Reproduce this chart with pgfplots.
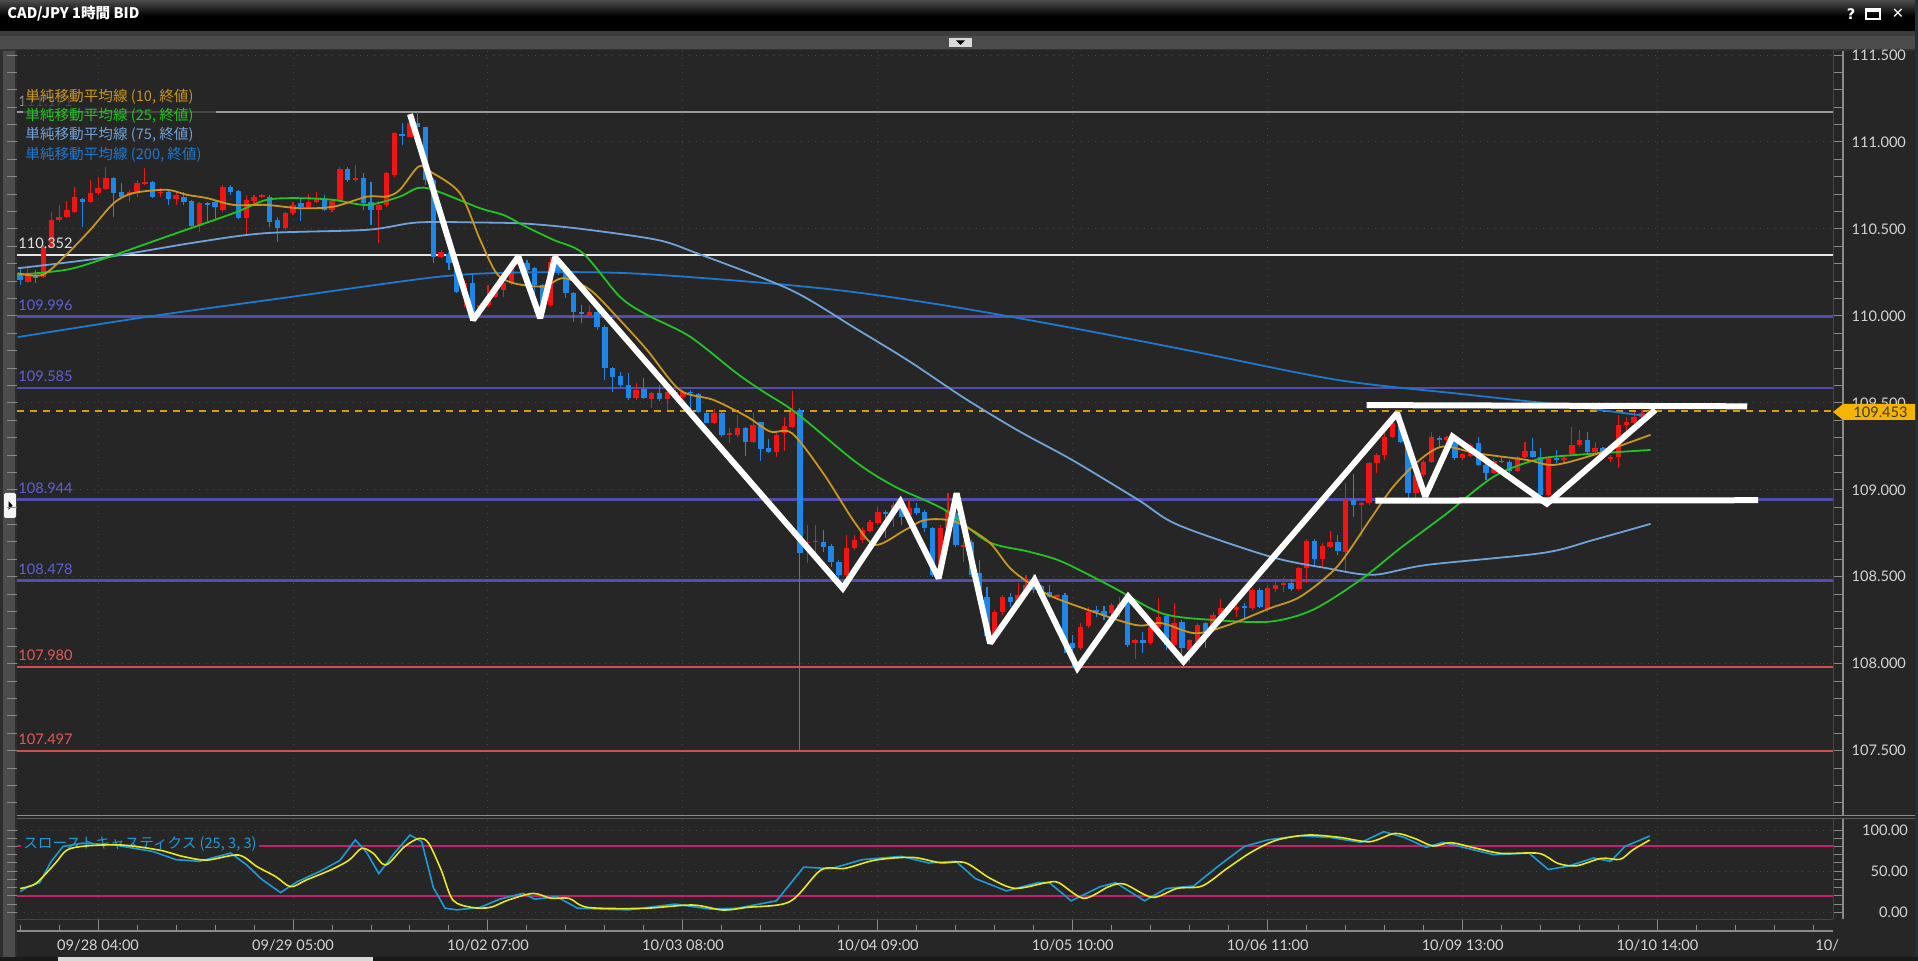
\documentclass[border=0pt]{standalone}
\usepackage{pgfplots}
\pgfplotsset{compat=1.18}
\usepackage{pgfplotstable}
\usepackage{fontspec}
\setmainfont{Lato}
\newfontfamily\cjk{Noto Sans CJK JP}
\newfontfamily\djv{DejaVu Sans}
\definecolor{bgc}{HTML}{262626}
\definecolor{gridc}{HTML}{4A4A4A}
\definecolor{txtc}{HTML}{D4D4D4}
\definecolor{axc}{HTML}{8A8A8A}
\definecolor{upc}{HTML}{F01414}
\definecolor{dnc}{HTML}{1E86E6}
\definecolor{smaA}{HTML}{C8961E}
\definecolor{smaB}{HTML}{22C322}
\definecolor{smaC}{HTML}{6FA3D8}
\definecolor{smaD}{HTML}{1F78D0}
\definecolor{indl}{HTML}{5050AC}
\definecolor{indt}{HTML}{6060D8}
\definecolor{redl}{HTML}{D05050}
\definecolor{redt}{HTML}{E25A5A}
\definecolor{orgc}{HTML}{D89C14}
\definecolor{tagc}{HTML}{F6B400}
\definecolor{stK}{HTML}{1E9BD7}
\definecolor{stD}{HTML}{E8E81E}
\definecolor{magc}{HTML}{C81E6E}
\definecolor{edgec}{HTML}{1E3434}
\definecolor{lgray}{HTML}{9A9A9A}
\definecolor{wline}{HTML}{E6E6E6}
\definecolor{wlab}{HTML}{E0E0E0}
\definecolor{borderc}{HTML}{444444}
\definecolor{sepa}{HTML}{8C8C8C}
\definecolor{sepb}{HTML}{5A5A5A}
\definecolor{bota}{HTML}{1A1A1A}
\definecolor{botb}{HTML}{D8D8D8}

\pgfplotstableread{
i o h l c
-9 110.198 110.274 110.188 110.236
-7 110.226 110.408 110.217 110.399
-6 110.399 110.600 110.389 110.552
-5 110.552 110.638 110.543 110.571
-4 110.571 110.658 110.562 110.610
-3 110.600 110.744 110.591 110.686
-1 110.654 110.782 110.648 110.711
0 110.706 110.801 110.696 110.738
1 110.730 110.859 110.725 110.796
4 110.696 110.725 110.658 110.711
5 110.706 110.782 110.686 110.763
6 110.763 110.853 110.753 110.769
8 110.706 110.734 110.686 110.715
10 110.673 110.715 110.638 110.696
13 110.520 110.658 110.485 110.648
16 110.610 110.753 110.600 110.744
19 110.562 110.696 110.470 110.667
20 110.658 110.696 110.638 110.686
21 110.686 110.700 110.677 110.696
24 110.504 110.600 110.495 110.591
25 110.591 110.658 110.581 110.638
27 110.629 110.700 110.619 110.654
28 110.654 110.715 110.648 110.677
30 110.610 110.667 110.600 110.661
31 110.661 110.859 110.657 110.845
33 110.782 110.865 110.769 110.792
36 110.610 110.658 110.418 110.638
37 110.638 110.830 110.629 110.821
38 110.811 111.060 110.801 111.051
40 111.031 111.146 111.026 111.108
44 110.341 110.380 110.332 110.370
47 110.140 110.207 110.054 110.188
49 110.025 110.073 110.006 110.063
50 110.063 110.178 110.054 110.111
51 110.111 110.169 110.102 110.149
52 110.149 110.245 110.111 110.188
53 110.188 110.303 110.178 110.293
54 110.293 110.341 110.284 110.312
58 110.063 110.341 110.054 110.312
63 110.006 110.063 109.987 110.025
69 109.526 109.613 109.517 109.574
71 109.521 109.565 109.469 109.559
73 109.521 109.574 109.459 109.565
75 109.536 109.574 109.521 109.565
79 109.387 109.463 109.379 109.440
81 109.319 109.354 109.268 109.329
82 109.316 109.431 109.306 109.354
84 109.277 109.450 109.268 109.373
87 109.220 109.325 109.191 109.316
88 109.325 109.421 109.225 109.367
89 109.364 109.571 109.354 109.450
91 108.693 108.798 108.581 108.702
92 108.702 108.798 108.626 108.708
96 108.510 108.741 108.501 108.664
97 108.664 108.741 108.654 108.712
98 108.712 108.789 108.693 108.766
99 108.766 108.827 108.760 108.817
100 108.808 108.904 108.798 108.871
102 108.861 108.932 108.789 108.913
104 108.856 108.942 108.846 108.894
108 108.540 108.798 108.491 108.779
109 108.779 108.980 108.769 108.884
111 108.674 108.702 108.587 108.683
115 108.160 108.309 108.118 108.300
116 108.300 108.396 108.281 108.386
118 108.357 108.463 108.348 108.396
119 108.405 108.511 108.396 108.453
123 108.382 108.401 108.376 108.396
126 108.089 108.233 108.079 108.214
127 108.214 108.329 108.204 108.300
130 108.290 108.348 108.271 108.338
131 108.329 108.386 108.271 108.344
133 108.121 108.146 108.031 108.137
135 108.118 108.223 108.108 108.214
136 108.214 108.376 108.204 108.271
138 108.108 108.348 108.099 108.233
140 108.079 108.146 108.003 108.137
141 108.127 108.233 108.099 108.223
143 108.194 108.300 108.185 108.281
144 108.281 108.376 108.271 108.319
146 108.309 108.348 108.271 108.329
148 108.319 108.434 108.309 108.424
150 108.314 108.453 108.298 108.434
151 108.428 108.472 108.415 108.453
152 108.453 108.491 108.415 108.466
154 108.428 108.558 108.420 108.549
155 108.549 108.716 108.463 108.708
157 108.601 108.693 108.558 108.679
158 108.674 108.765 108.664 108.702
160 108.645 109.038 108.530 108.942
162 108.913 108.932 108.731 108.927
163 108.923 109.162 108.913 109.153
164 109.153 109.210 109.095 109.201
165 109.201 109.325 109.172 109.306
166 109.306 109.440 109.297 109.383
169 108.980 109.095 108.951 109.086
170 109.086 109.172 109.076 109.162
171 109.162 109.335 109.153 109.302
173 109.287 109.310 109.258 109.302
175 109.182 109.214 109.172 109.206
176 109.195 109.268 109.187 109.258
179 109.099 109.182 109.091 109.168
182 109.111 109.195 109.103 109.187
183 109.187 109.277 109.182 109.226
186 108.971 109.191 108.961 109.182
188 109.172 109.201 109.162 109.187
189 109.206 109.364 109.201 109.258
190 109.258 109.348 109.249 109.287
192 109.220 109.277 109.210 109.239
194 109.176 109.201 109.162 109.187
195 109.187 109.431 109.124 109.373
196 109.373 109.421 109.316 109.392
197 109.383 109.450 109.364 109.421
198 109.421 109.459 109.402 109.440
199 109.440 109.469 109.431 109.453
}\upt

\pgfplotstableread{
i o h l c
-10 110.245 110.274 110.178 110.207
-8 110.236 110.264 110.188 110.221
-2 110.673 110.677 110.514 110.658
2 110.792 110.801 110.571 110.706
3 110.711 110.763 110.677 110.686
7 110.769 110.776 110.677 110.686
9 110.715 110.725 110.638 110.673
11 110.686 110.715 110.638 110.654
12 110.661 110.667 110.514 110.520
14 110.648 110.658 110.533 110.638
15 110.654 110.658 110.552 110.629
17 110.744 110.757 110.696 110.715
18 110.719 110.725 110.558 110.562
22 110.686 110.696 110.514 110.543
23 110.552 110.571 110.428 110.504
26 110.648 110.677 110.543 110.629
29 110.673 110.696 110.604 110.610
32 110.845 110.859 110.773 110.782
34 110.792 110.821 110.610 110.648
35 110.654 110.769 110.524 110.610
39 111.045 111.108 110.983 111.035
41 111.108 111.171 111.079 111.085
42 111.085 111.089 110.753 110.782
43 110.782 110.792 110.303 110.341
45 110.360 110.370 110.264 110.303
46 110.303 110.312 110.130 110.140
48 110.188 110.245 109.987 110.025
55 110.307 110.322 110.255 110.264
56 110.274 110.284 110.025 110.178
57 110.178 110.188 109.996 110.063
59 110.312 110.337 110.235 110.245
60 110.245 110.255 110.102 110.130
61 110.130 110.140 109.967 110.025
62 110.025 110.063 109.958 110.011
64 110.025 110.034 109.919 109.935
65 109.935 109.948 109.632 109.699
66 109.703 109.709 109.565 109.651
67 109.655 109.680 109.594 109.603
68 109.603 109.670 109.517 109.526
70 109.578 109.641 109.521 109.526
72 109.559 109.603 109.513 109.521
74 109.565 109.574 109.526 109.536
76 109.565 109.574 109.440 109.555
77 109.551 109.559 109.440 109.450
78 109.440 109.450 109.383 109.387
80 109.440 109.450 109.302 109.316
83 109.354 109.364 109.195 109.277
85 109.387 109.392 109.168 109.233
86 109.239 109.291 109.214 109.220
90 109.459 109.469 107.504 108.635
93 108.702 108.769 108.645 108.670
94 108.677 108.689 108.558 108.587
95 108.587 108.597 108.482 108.510
101 108.871 108.884 108.722 108.861
103 108.904 108.932 108.798 108.846
105 108.894 108.923 108.856 108.869
106 108.875 108.884 108.760 108.779
107 108.779 108.789 108.501 108.511
110 108.865 108.884 108.674 108.683
112 108.702 108.712 108.501 108.511
113 108.521 108.597 108.348 108.367
114 108.386 108.444 108.130 108.160
117 108.386 108.405 108.329 108.357
120 108.453 108.517 108.405 108.424
121 108.447 108.453 108.376 108.386
122 108.415 108.453 108.376 108.382
124 108.396 108.405 108.060 108.118
125 108.118 108.166 107.975 108.089
128 108.309 108.329 108.271 108.300
129 108.300 108.332 108.252 108.271
132 108.376 108.386 108.099 108.108
134 108.137 108.185 108.060 108.121
137 108.271 108.281 108.079 108.108
139 108.242 108.252 108.013 108.089
142 108.233 108.242 108.089 108.175
145 108.319 108.338 108.290 108.300
147 108.329 108.348 108.252 108.319
149 108.424 108.434 108.319 108.329
153 108.466 108.486 108.420 108.428
156 108.708 108.716 108.568 108.601
159 108.702 108.741 108.626 108.651
161 108.942 109.095 108.846 108.913
167 109.373 109.392 109.268 109.277
168 109.277 109.297 108.951 108.980
172 109.297 109.310 109.249 109.287
174 109.297 109.306 109.172 109.182
177 109.268 109.306 109.134 109.143
178 109.143 109.162 109.057 109.099
180 109.168 109.195 109.153 109.162
181 109.162 109.172 109.099 109.111
184 109.226 109.297 109.182 109.191
185 109.191 109.239 108.920 108.971
187 109.187 109.229 109.153 109.172
191 109.287 109.335 109.210 109.220
193 109.239 109.249 109.201 109.206
}\dnt

\pgfplotsset{
  wick/.style={draw=none, mark=none, forget plot,
    error bars/.cd, y dir=both, y explicit, error mark=none,
    error bar style={draw=#1, line width=0.55pt, solid}},
  body/.style={draw=none, mark=none, forget plot,
    error bars/.cd, y dir=both, y explicit, error mark=none,
    error bar style={draw=#1, line width=2.7pt, line cap=butt, solid}},
}
\newcommand{\fs}{\fontsize{7.3}{8.5}\selectfont}

\begin{document}
\begin{tikzpicture}[font=\fs]
\begin{scope}[x=0.5pt,y=-0.5pt]
  \fill[bgc] (0,0) rectangle (1918,961);
  % title bar
  \fill[black] (0,0) rectangle (1918,31);
  \shade[top color=black!70!white, bottom color=black] (0,0) rectangle (1918,16);
  \node[anchor=west, text=white, inner sep=0] at (7,14) {\cjk\bfseries CAD/JPY 1時間 BID};
  \node[text=white, inner sep=0] at (1851,14) {\djv\bfseries ?};
  \draw[white, line width=0.7pt] (1866,9) rectangle (1880,19);
  \fill[white] (1866,9) rectangle (1880,12);
  \node[text=white, inner sep=0] at (1898,14) {\djv\bfseries ✕};
  % toolbar
  \fill[black!76] (0,31) rectangle (1918,36);
  \fill[black!70] (0,36) rectangle (1918,49);
  \fill[black!80] (0,49) rectangle (1918,51);
  \fill[black!15] (949,38) rectangle (972,47);
  \fill[black] (956,40.5) -- (965,40.5) -- (960.5,45) -- cycle;
  % left strip
  \fill[black!70] (0,51) rectangle (17,958);
  \fill[black!82] (0,51) rectangle (3,958);
  \fill[black!82] (15,51) rectangle (17,958);
  \fill[black!4, rounded corners=1pt] (4,493) rectangle (16,518);
  \fill[black] (8.5,501) -- (12.5,505.5) -- (8.5,510) -- cycle;
  % right edge
  \fill[edgec] (1915,0) rectangle (1918,961);
\end{scope}

% ================= main price panel =================
\begin{axis}[
  at={(8.5pt,-407.5pt)}, anchor=south west,
  width=908pt, height=382.5pt, scale only axis,
  xmin=-10.4, xmax=222.5, ymin=107.13, ymax=111.529,
  axis background/.style={fill=bgc},
  axis line style={draw=none},
  xtick={0,25,...,200}, xticklabels={}, xtick style={draw=none},
  xmajorgrids, ymajorgrids,
  grid style={draw=gridc, line width=0.5pt, dash pattern=on 0.7pt off 2.8pt},
  ytick={107.5,108,...,111.5},
  minor ytick={107.2,107.3,...,111.45},
  yticklabel pos=right,
  ytick style={draw=axc, line width=0.5pt},
  tick align=outside, major tick length=5pt, minor tick length=5pt,
  yticklabel style={font=\fs, text=txtc, anchor=east, xshift=35pt,
    /pgf/number format/.cd, fixed, fixed zerofill, precision=3, assume math mode=true},
  clip=true,
]
% level lines
\addplot[lgray, line width=1pt, forget plot] coordinates {(-10.4,111.171) (222.5,111.171)};
\addplot[wline, line width=0.9pt, forget plot] coordinates {(-10.4,110.352) (222.5,110.352)};
\addplot[indl, line width=1.1pt, forget plot] coordinates {(-10.4,109.996) (222.5,109.996)};
\addplot[indl, line width=1.1pt, forget plot] coordinates {(-10.4,109.585) (222.5,109.585)};
\addplot[indl, line width=1.1pt, forget plot] coordinates {(-10.4,108.944) (222.5,108.944)};
\addplot[indl, line width=1.1pt, forget plot] coordinates {(-10.4,108.478) (222.5,108.478)};
\addplot[redl, line width=0.9pt, forget plot] coordinates {(-10.4,107.980) (222.5,107.980)};
\addplot[redl, line width=0.9pt, forget plot] coordinates {(-10.4,107.497) (222.5,107.497)};
\addplot[orgc, line width=1pt, dash pattern=on 3.5pt off 3pt, forget plot] coordinates {(-10.4,109.453) (222.5,109.453)};
% candles
\addplot[wick=upc] table[x=i, y expr={(\thisrow{h}+\thisrow{l})/2}, y error expr={(\thisrow{h}-\thisrow{l})/2}] {\upt};
\addplot[wick=dnc] table[x=i, y expr={(\thisrow{h}+\thisrow{l})/2}, y error expr={(\thisrow{h}-\thisrow{l})/2}] {\dnt};
\addplot[body=upc] table[x=i, y expr={(\thisrow{o}+\thisrow{c})/2}, y error expr={max(abs(\thisrow{c}-\thisrow{o})/2,0.003)}] {\upt};
\addplot[body=dnc] table[x=i, y expr={(\thisrow{o}+\thisrow{c})/2}, y error expr={max(abs(\thisrow{c}-\thisrow{o})/2,0.003)}] {\dnt};
% moving averages
\addplot[smaD, line width=0.9pt, smooth] coordinates {(-10.3,109.878) (6.5,109.996) (23.6,110.102) (43.9,110.226) (55,110.25) (68.2,110.245) (85.3,110.19) (97.1,110.136) (110,110.05) (125,109.93) (140,109.80) (158.9,109.632) (175,109.55) (187.5,109.488) (199.1,109.421)};
\addplot[smaC, line width=0.9pt, smooth] coordinates {(-10.3,110.274) (0.3,110.332) (13.1,110.427) (21.6,110.476) (34.5,110.495) (40.9,110.537) (49,110.537) (55,110.53) (62,110.50) (71.7,110.437) (76.8,110.360) (88.8,110.150) (97.1,109.929) (104,109.74) (111,109.53) (118,109.34) (124.9,109.172) (133.4,108.942) (138.5,108.798) (150.3,108.616) (157.6,108.549) (163.5,108.511) (170.4,108.568) (185.3,108.637) (191.8,108.712) (199.1,108.804)};
\addplot[smaB, line width=0.9pt, smooth] coordinates {(-10.3,110.236) (-4.1,110.265) (0.3,110.322) (8.8,110.456) (17.4,110.591) (21.6,110.667) (25.9,110.677) (30.2,110.667) (34.5,110.638) (38.7,110.686) (40.9,110.734) (43,110.725) (49,110.619) (52,110.58) (55,110.51) (58.4,110.437) (62.2,110.360) (66.9,110.111) (70.4,110.006) (75.9,109.881) (81.9,109.670) (85.3,109.565) (89.6,109.440) (97.1,109.162) (102.2,109.018) (108.6,108.884) (114.1,108.702) (119.3,108.645) (123.6,108.587) (130,108.443) (136.4,108.290) (142.8,108.252) (150.3,108.242) (155.8,108.310) (161.9,108.482) (167,108.664) (173,108.865) (179,109.076) (184.6,109.175) (189.7,109.201) (199.1,109.229)};
\addplot[smaA, line width=0.9pt, smooth] coordinates {(-10.3,110.245) (-7.1,110.236) (-4.1,110.351) (-1,110.495) (2,110.648) (4.5,110.706) (8.8,110.725) (11.4,110.696) (14,110.677) (17.4,110.638) (21.6,110.638) (25.9,110.619) (30.2,110.628) (34.5,110.686) (37,110.686) (38.7,110.725) (41.1,110.859) (42.6,110.83) (46.4,110.706) (49,110.437) (51.1,110.245) (53.3,110.188) (57.1,110.169) (59.7,110.217) (63.1,110.150) (66.9,109.977) (70.4,109.804) (74.6,109.574) (78.9,109.517) (83.2,109.421) (86.2,109.335) (89,109.325) (93,109.095) (97.1,108.808) (99.7,108.683) (103.5,108.769) (106.1,108.827) (109.9,108.817) (114.2,108.702) (117.2,108.539) (121.5,108.405) (125.7,108.329) (133,108.223) (136.4,108.233) (140.7,108.175) (145,108.223) (150.3,108.319) (154.2,108.386) (158.9,108.558) (163.1,108.827) (166.1,109.018) (169.5,109.172) (172.5,109.249) (176.8,109.210) (183.2,109.172) (186.7,109.143) (191.8,109.201) (199.1,109.316)};
% hand-drawn white trend lines
\addplot[white, line width=3pt, miter limit=2] coordinates {(40.0,111.16) (48.1,109.977) (53.9,110.341) (56.7,109.987) (58.6,110.337) (95.5,108.434) (102.9,108.932) (107.8,108.491) (110.1,108.980) (114.4,108.118) (120.1,108.482) (125.6,107.975) (132.1,108.386) (139.2,108.013) (166.6,109.44) (170.2,108.961) (173.7,109.306) (185.8,108.92) (199.7,109.459)};
\addplot[white, line width=3pt] coordinates {(162.7,109.487) (211.5,109.480)};
\addplot[white, line width=3pt] coordinates {(163.8,108.938) (212.9,108.940)};
\end{axis}

% ================= stochastics panel =================
\begin{axis}[
  at={(8.5pt,-459.5pt)}, anchor=south west,
  width=908pt, height=50pt, scale only axis,
  xmin=-10.4, xmax=222.5, ymin=-8.1, ymax=113.4,
  axis background/.style={fill=bgc},
  axis line style={draw=none},
  xtick={0,25,...,200}, xticklabels={}, xtick style={draw=none},
  xmajorgrids, ymajorgrids,
  grid style={draw=gridc, line width=0.5pt, dash pattern=on 0.7pt off 2.8pt},
  ytick={0,50,100},
  minor ytick={10,20,...,90},
  yticklabel pos=right,
  ytick style={draw=axc, line width=0.5pt},
  tick align=outside, major tick length=5pt, minor tick length=5pt,
  yticklabel style={font=\fs, text=txtc, anchor=east, xshift=36pt,
    /pgf/number format/.cd, fixed, fixed zerofill, precision=2, assume math mode=true},
  clip=true,
]
\addplot[magc, line width=1pt] coordinates {(-10.4,80) (222.5,80)};
\addplot[magc, line width=1pt] coordinates {(-10.4,20) (222.5,20)};
\node[anchor=west, fill=bgc, inner sep=1pt, text=stK] at (axis cs:-9.9,83) {\cjk スローストキャスティクス (25, 3, 3)};
\addplot[stK, line width=0.8pt] coordinates {(-10,25) (-9,31) (-7.5,36) (-6,62) (-4.5,80) (-2,84) (2,82) (7,74) (10,64) (13,62) (17,72) (19,58) (21,40) (23.4,24) (25.5,37) (28.5,50) (31,63) (33,88) (34.5,72) (36,47) (38,72) (40,93.9) (41.5,86) (43,30) (44.5,5) (46,3) (49,6) (51.5,16) (54.5,23) (56,16) (58.8,19) (61.5,5) (68,3) (74,10) (78.5,4) (82,5) (87,14) (90.5,55) (94,53) (98,64) (103,68) (106.5,60) (110,62) (112.5,41) (116.5,26) (120.5,36) (122,36) (124.8,14) (128.5,31) (130.5,36) (134.2,14) (137,29) (140.5,32) (143.5,55) (147,80) (150,88) (154,93) (158,91) (162,85) (164.9,98) (167.5,91) (170.3,79) (172.5,85) (175.5,78) (179,70) (183.5,72) (186,52) (188.5,56) (191.8,66) (194,62) (195.8,80) (199,92.7)};
\addplot[stD, line width=0.8pt, smooth] coordinates {(-10,29) (-8,35) (-5.5,59.5) (-4,75.7) (-1.6,80.6) (3,81.8) (7.8,75.7) (11,67.6) (14,63.5) (18,69.6) (20.4,55.4) (22.8,43.3) (24.7,31.1) (26.7,39.3) (29.8,51.4) (32.2,63.5) (33.8,77.7) (35.3,71.6) (36.9,57.5) (39.3,79.8) (41.2,89.9) (42.4,83.8) (44,51.4) (45.5,14.9) (47.9,6) (50.3,6) (52.6,14.9) (55.8,23) (58.1,17) (60.4,17) (62.8,6) (69.9,4.8) (76.2,8.9) (80.1,2.8) (83.2,6) (88.7,12.9) (92.7,51.4) (95.8,53.4) (99.7,63.5) (104.4,66.8) (108,60.3) (111.2,60.3) (114.4,41.3) (117.6,29.1) (121.6,36) (123.2,36) (126.4,17) (129.6,31.1) (131.6,34.4) (135.2,18.2) (138.4,29.1) (141.6,32) (144.8,53.4) (148,73.7) (151.2,87.9) (155.2,93.9) (159.2,91.1) (163.1,85.8) (166.3,95.9) (168.8,89.9) (171.2,80.6) (173.5,84.6) (176.8,77.7) (180,71.6) (184.8,71.6) (187.2,59.5) (189.6,56.6) (192.8,65.6) (195.2,64.4) (196.8,75.7) (199,87.9)};
\end{axis}

% ================= time axis =================
\begin{axis}[
  at={(8.5pt,-465.5pt)}, anchor=south west,
  width=908pt, height=6pt, scale only axis,
  xmin=-10.4, xmax=222.5, ymin=0, ymax=1,
  axis x line*=bottom, axis y line=none,
  axis line style={draw=axc, line width=0.7pt, -},
  xtick={0,25,...,200},
  xticklabels={09/28 04:00, 09/29 05:00, 10/02 07:00, 10/03 08:00, 10/04 09:00, 10/05 10:00, 10/06 11:00, 10/09 13:00, 10/10 14:00},
  minor xtick={-10,-5,...,220},
  tick align=inside, major tick length=6pt, minor tick length=3pt,
  xtick style={draw=axc, line width=0.5pt},
  xticklabel style={font=\fs, text=txtc, yshift=-1pt},
  ytick=\empty,
]
\end{axis}

\begin{scope}[x=0.5pt,y=-0.5pt]
  % panel borders and right scale lines
  \draw[borderc, line width=0.5pt] (1833,51) -- (1833,815);
  \draw[borderc, line width=0.5pt] (1833,819) -- (1833,919);
  \draw[borderc, line width=0.7pt] (17,919.5) -- (1833,919.5);
  \draw[axc, line width=0.6pt] (1843,51) -- (1843,815);
  \draw[axc, line width=0.6pt] (1843,819) -- (1843,919);
  \draw[sepa, line width=0.6pt] (17,815.5) -- (1915,815.5);
  \draw[sepb, line width=0.6pt] (17,818.5) -- (1915,818.5);
  % current price tag
  \fill[tagc] (1833,412) -- (1843,404) -- (1915,404) -- (1915,420) -- (1843,420) -- cycle;
  \node[anchor=east, text=black!78, inner sep=0] at (1908,412.5) {109.453};
  % level labels
  \node[anchor=base west, text=lgray, inner sep=0] at (18,107) {111.171};
  \node[anchor=base west, text=wlab, inner sep=0] at (18,248.5) {110.352};
  \node[anchor=base west, text=indt, inner sep=0] at (18,310.5) {109.996};
  \node[anchor=base west, text=indt, inner sep=0] at (18,382) {109.585};
  \node[anchor=base west, text=indt, inner sep=0] at (18,493.5) {108.944};
  \node[anchor=base west, text=indt, inner sep=0] at (18,574.5) {108.478};
  \node[anchor=base west, text=redt, inner sep=0] at (18,661) {107.980};
  \node[anchor=base west, text=redt, inner sep=0] at (18,745) {107.497};
  % legend (semi-transparent box behind it)
  \fill[bgc, fill opacity=0.72] (23,86) rectangle (216,165);
  \node[anchor=west, text=smaA, inner sep=0] at (25,96.5) {\cjk 単純移動平均線 (10, 終値)};
  \node[anchor=west, text=smaB, inner sep=0] at (25,115.5) {\cjk 単純移動平均線 (25, 終値)};
  \node[anchor=west, text=smaC, inner sep=0] at (25,135) {\cjk 単純移動平均線 (75, 終値)};
  \node[anchor=west, text=smaD, inner sep=0] at (25,155) {\cjk 単純移動平均線 (200, 終値)};
  % clipped last date label
  \node[anchor=west, text=txtc, inner sep=0] at (1815,945) {10/};
  % bottom edge
  \fill[bota] (0,957) rectangle (1918,961);
  \fill[botb] (58,957.5) rectangle (373,961);
\end{scope}
\pgfresetboundingbox
\useasboundingbox (0,0) rectangle (959pt,-480.5pt);
\end{tikzpicture}
\end{document}
